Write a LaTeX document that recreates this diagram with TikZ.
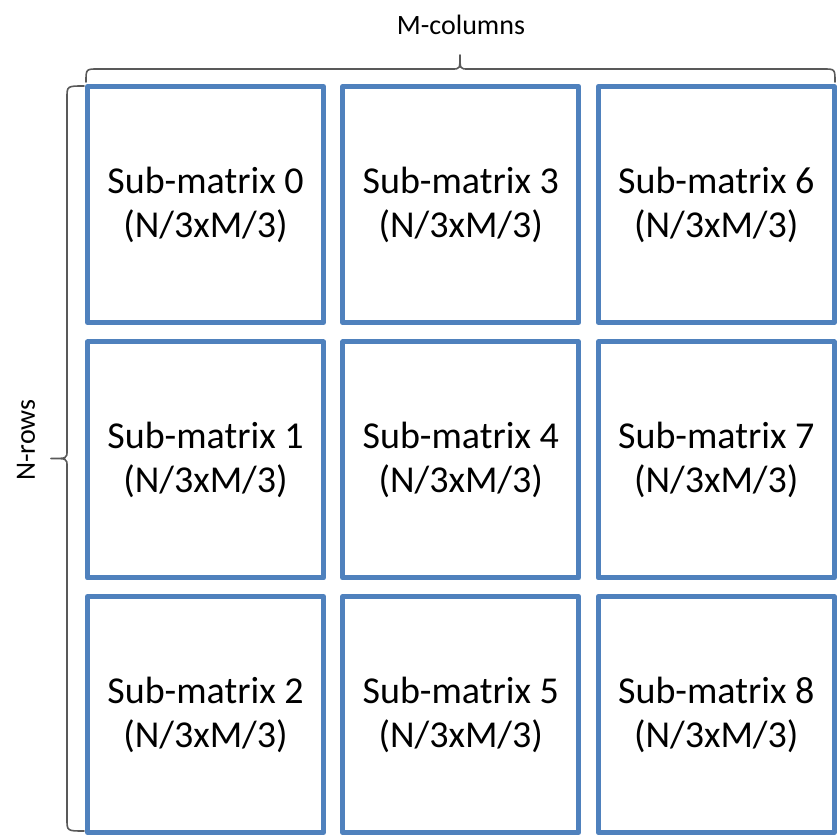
\documentclass[tikz,border=0pt]{standalone}
\usepackage{fontspec}
\setmainfont{Carlito}
\definecolor{boxblue}{HTML}{4F81BD}
\definecolor{bracegray}{HTML}{595959}
\begin{document}
\begin{tikzpicture}[x=1pt,y=1pt,
  cell/.style={draw=boxblue, line width=5pt, line join=round, minimum width=236pt, minimum height=236pt,
    inner sep=0pt, outer sep=0pt, align=center, font=\fontsize{38}{44}\selectfont},
  bracestyle/.style={draw=bracegray, line width=1.6pt, line cap=round, line join=round},
  lab/.style={font=\fontsize{28}{34}\selectfont, inner sep=0pt, anchor=base}]
\useasboundingbox (0,0) rectangle (838,835);
\node[cell] (m0) at (205.5,630.5) {Sub-matrix 0\\(N/3xM/3)};
\node[cell] (m1) at (205.5,375) {Sub-matrix 1\\(N/3xM/3)};
\node[cell] (m2) at (205.5,120.5) {Sub-matrix 2\\(N/3xM/3)};
\node[cell] (m3) at (460.75,630.5) {Sub-matrix 3\\(N/3xM/3)};
\node[cell] (m4) at (460.75,375) {Sub-matrix 4\\(N/3xM/3)};
\node[cell] (m5) at (460.75,120.5) {Sub-matrix 5\\(N/3xM/3)};
\node[cell] (m6) at (716.25,630.5) {Sub-matrix 6\\(N/3xM/3)};
\node[cell] (m7) at (716.25,375) {Sub-matrix 7\\(N/3xM/3)};
\node[cell] (m8) at (716.25,120.5) {Sub-matrix 8\\(N/3xM/3)};
% top brace
\coordinate (tl) at (86,753);
\coordinate (tr) at (835,753);
\coordinate (tt) at (460,780);
\draw[bracestyle] (tl) .. controls (86,766) .. (98,766) -- (452,766)
  .. controls (460,766) .. (tt) .. controls (460,766) .. (468,766) -- (823,766)
  .. controls (835,766) .. (tr);
% left brace
\coordinate (lt) at (84,749);
\coordinate (lb) at (84,4);
\coordinate (ll) at (51,376.5);
\draw[bracestyle] (lt) .. controls (67,749) .. (67,737) -- (67,384.5)
  .. controls (67,376.5) .. (ll) .. controls (67,376.5) .. (67,368.5) -- (67,16)
  .. controls (67,4) .. (lb);
\node[lab] (mcol) at (461,800) {M-columns};
\node[lab, rotate=90] (nrow) at (35,395) {N-rows};
\end{tikzpicture}
\end{document}
